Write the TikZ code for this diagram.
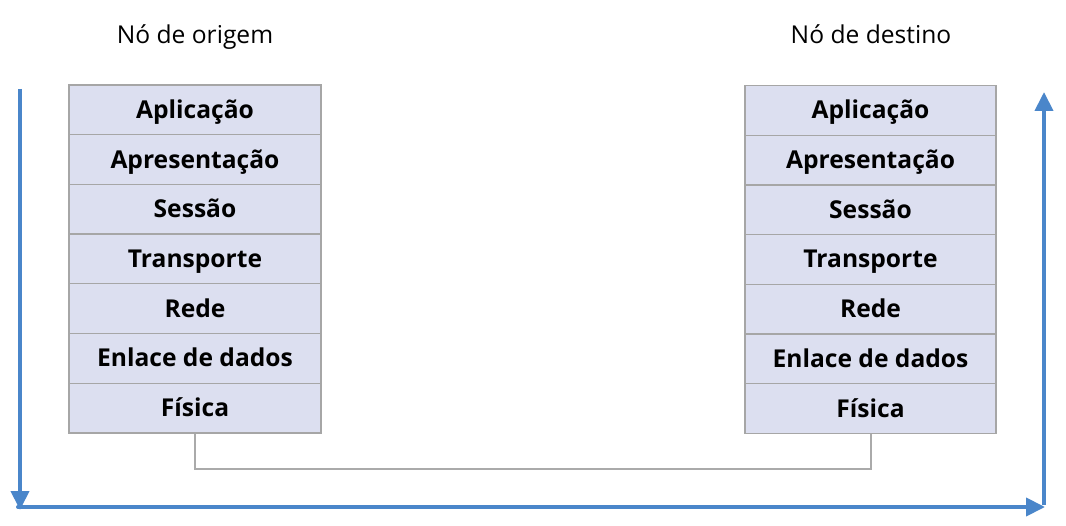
\documentclass[tikz,border=0pt]{standalone}
\usepackage{fontspec}
\setmainfont{Open Sans}
\usetikzlibrary{arrows.meta}
\definecolor{layerfill}{RGB}{220,223,240}
\definecolor{layerline}{RGB}{166,166,166}
\definecolor{flowblue}{RGB}{74,134,202}
\definecolor{linkgray}{RGB}{170,170,170}
\tikzset{
  layer/.style={draw=layerline, line width=1.3pt, fill=layerfill, minimum width=252pt, minimum height=49.7pt, inner sep=0pt, text height=20pt, text depth=3pt, font=\fontsize{24.6}{28}\selectfont\bfseries, text=black},
  title/.style={font=\fontsize{24.6}{28}\selectfont, text=black, inner sep=0pt, anchor=base},
  flow/.style={draw=flowblue, line width=4pt, -{Triangle[length=19pt,width=18pt]}},
  link/.style={draw=linkgray, line width=2pt}
}
\begin{document}
\begin{tikzpicture}[x=1pt,y=-1pt]
\useasboundingbox (0,0) rectangle (1066,526);
\node[title] (tleft) at (195,44) {Nó de origem};
\node[title] (tright) at (871,44) {Nó de destino};
\foreach \t [count=\i] in {Aplicação,Apresentação,Sessão,Transporte,Rede,Enlace de dados,Física}{
  \node[layer] (L\i) at (195,{85+49.7*(\i-0.5)}) {\t};
  \node[layer, minimum width=251pt] (R\i) at (870.5,{85.5+49.7*(\i-0.5)}) {\t};
}
\draw[link] (L7.south) -- ++(0,35) -| (R7.south);
\coordinate (tl) at (20,89);
\coordinate (bl) at (20,507);
\coordinate (br) at (1044,507);
\coordinate (tr) at (1044,92);
\draw[flow] (tl) -- ([yshift=-3pt]bl);
\draw[flow, line cap=round] ([xshift=-2pt]bl) -- ([xshift=1pt]br);
\draw[flow] ([yshift=2pt]br) -- (tr);
\end{tikzpicture}
\end{document}
